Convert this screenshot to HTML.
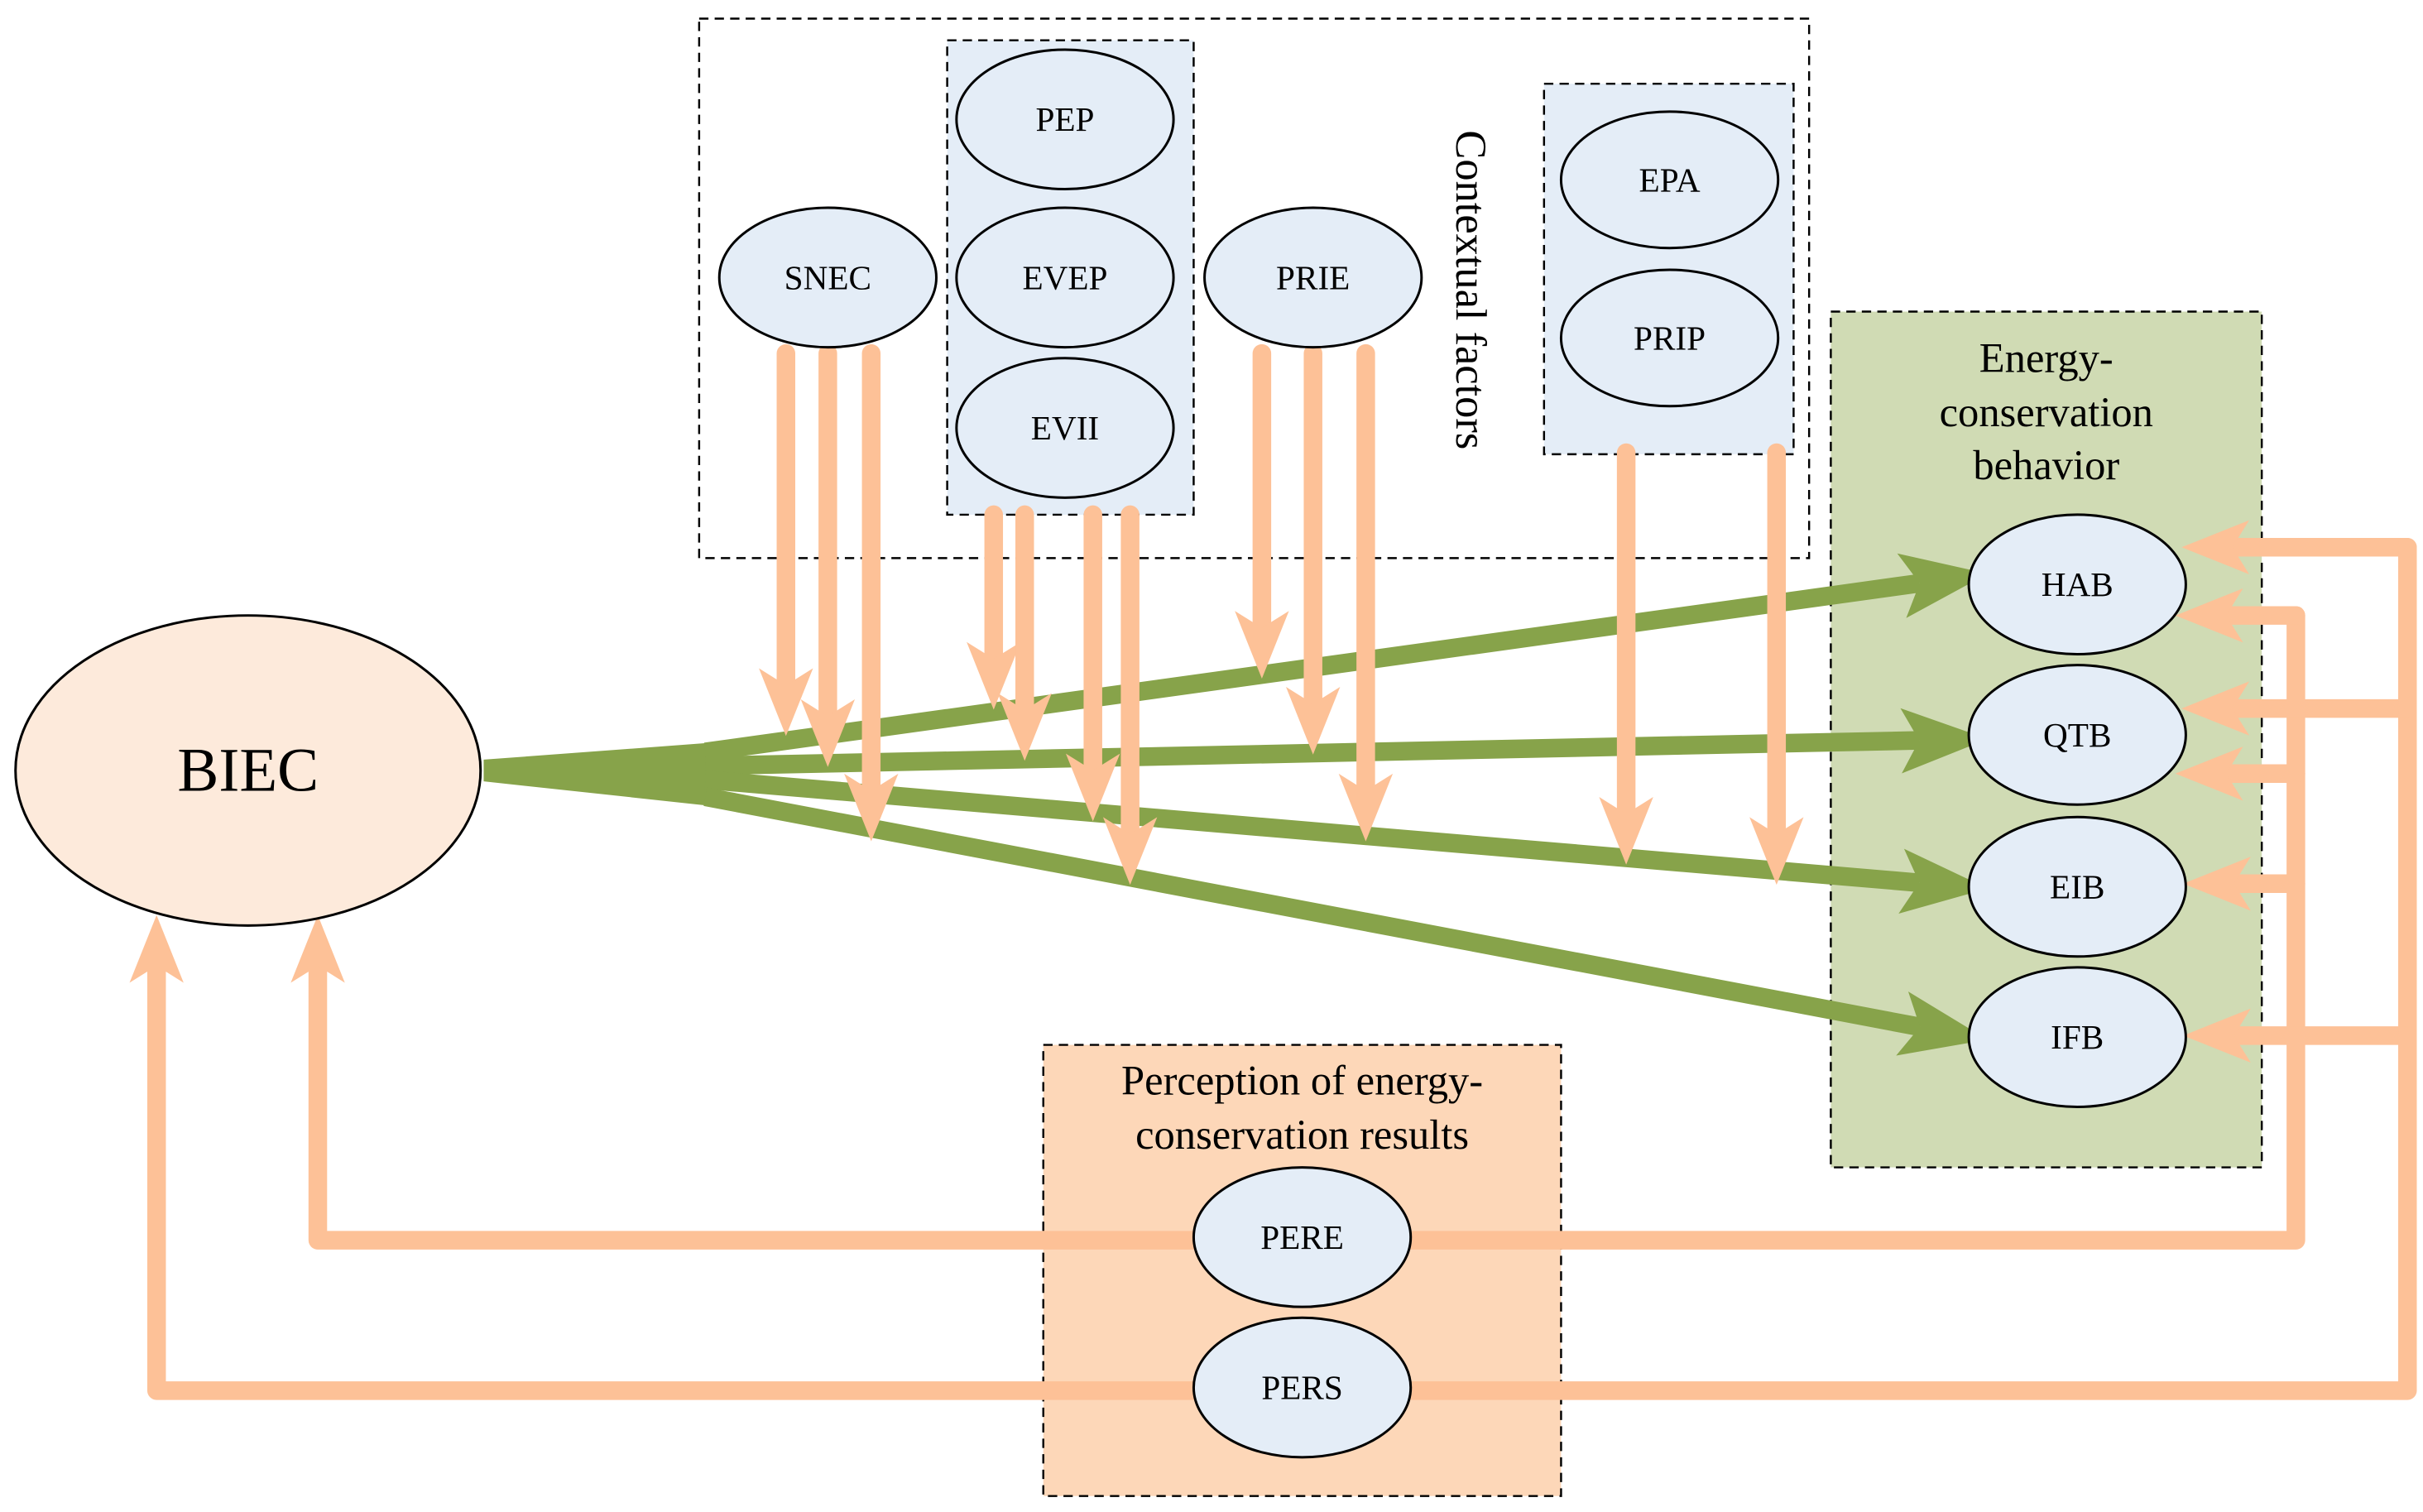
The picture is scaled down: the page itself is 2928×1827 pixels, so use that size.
<!DOCTYPE html>
<html><head><meta charset="utf-8"><style>html,body{margin:0;padding:0;background:#fff}svg{display:block}</style></head>
<body>
<svg width="2928" height="1827" viewBox="0 0 1563 975.3" preserveAspectRatio="none" xmlns="http://www.w3.org/2000/svg" font-family="'Liberation Serif', serif">
<defs>
<marker id="o" markerUnits="userSpaceOnUse" markerWidth="60" markerHeight="60" viewBox="-5 -25 55 50" refX="10" refY="0" orient="auto" overflow="visible"><path d="M40,0 L0,-16 L10,0 L0,16 Z" fill="#fdc197"/></marker>
<marker id="g" markerUnits="userSpaceOnUse" markerWidth="70" markerHeight="70" viewBox="-5 -25 60 50" refX="10" refY="0" orient="auto" overflow="visible"><path d="M48,0 L0,-18 L10,0 L0,18 Z" fill="#87a34a"/></marker>
</defs>
<rect x="0" y="0" width="1563" height="975.3" fill="#fff"/>
<rect x="451" y="12" width="716" height="348" fill="none" stroke="#000" stroke-width="1.3" stroke-dasharray="6,4"/>
<rect x="611" y="26" width="159" height="306" fill="#e4edf7" stroke="#000" stroke-width="1.3" stroke-dasharray="6,4"/>
<rect x="996" y="54" width="161" height="239" fill="#e4edf7" stroke="#000" stroke-width="1.3" stroke-dasharray="6,4"/>
<rect x="1181" y="201" width="278" height="552" fill="#d0dbb4" stroke="#000" stroke-width="1.3" stroke-dasharray="6,4"/>
<rect x="673" y="674" width="334" height="291" fill="#fdd7b8" stroke="#000" stroke-width="1.3" stroke-dasharray="6,4"/>
<text x="946" y="187" font-size="28" text-anchor="middle" transform="rotate(90 946 187)" dominant-baseline="middle">Contextual factors</text>
<g font-size="27" text-anchor="middle">
<text x="1320" y="240">Energy-</text>
<text x="1320" y="275">conservation</text>
<text x="1320" y="309">behavior</text>
<text x="840" y="706">Perception of energy-</text>
<text x="840" y="741">conservation results</text>
</g>
<polygon points="312,490 460,479 460,520 312,504" fill="#87a34a"/>
<g stroke="#87a34a" stroke-width="12" fill="none">
<line x1="455" y1="485" x2="1238.3" y2="376.2" marker-end="url(#g)"/>
<line x1="455" y1="494" x2="1238" y2="477.6" marker-end="url(#g)"/>
<line x1="455" y1="503" x2="1238.1" y2="569.4" marker-end="url(#g)"/>
<line x1="455" y1="514" x2="1238.5" y2="662.4" marker-end="url(#g)"/>
</g>
<g stroke="#fdc197" stroke-width="12" fill="none" stroke-linecap="round">
<line x1="507" y1="228" x2="507" y2="442" marker-end="url(#o)"/>
<line x1="534" y1="228" x2="534" y2="462" marker-end="url(#o)"/>
<line x1="562" y1="228" x2="562" y2="510" marker-end="url(#o)"/>
<line x1="641" y1="332" x2="641" y2="425" marker-end="url(#o)"/>
<line x1="661" y1="332" x2="661" y2="458" marker-end="url(#o)"/>
<line x1="705" y1="332" x2="705" y2="497" marker-end="url(#o)"/>
<line x1="729" y1="332" x2="729" y2="538" marker-end="url(#o)"/>
<line x1="814" y1="228" x2="814" y2="405" marker-end="url(#o)"/>
<line x1="847" y1="228" x2="847" y2="454" marker-end="url(#o)"/>
<line x1="881" y1="228" x2="881" y2="510" marker-end="url(#o)"/>
<line x1="1049" y1="292" x2="1049" y2="525" marker-end="url(#o)"/>
<line x1="1146" y1="292" x2="1146" y2="538" marker-end="url(#o)"/>
<polyline points="1553,353 1553,897 101,897 101,623" stroke-linejoin="round" marker-end="url(#o)"/>
<polyline points="1481,397 1481,800 205,800 205,623" stroke-linejoin="round" marker-end="url(#o)"/>
<line x1="1553" y1="353" x2="1440" y2="353" marker-end="url(#o)"/>
<line x1="1481" y1="397" x2="1436" y2="397" marker-end="url(#o)"/>
<line x1="1553" y1="457" x2="1440" y2="457" marker-end="url(#o)"/>
<line x1="1481" y1="499" x2="1436" y2="499" marker-end="url(#o)"/>
<line x1="1481" y1="570" x2="1441" y2="570" marker-end="url(#o)"/>
<line x1="1553" y1="668" x2="1441" y2="668" marker-end="url(#o)"/>
</g>
<g fill="#e4edf7" stroke="#000" stroke-width="1.6">
<ellipse cx="687" cy="77" rx="70" ry="45"/>
<ellipse cx="687" cy="179" rx="70" ry="45"/>
<ellipse cx="687" cy="276" rx="70" ry="45"/>
<ellipse cx="534" cy="179" rx="70" ry="45"/>
<ellipse cx="847" cy="179" rx="70" ry="45"/>
<ellipse cx="1077" cy="116" rx="70" ry="44"/>
<ellipse cx="1077" cy="218" rx="70" ry="44"/>
<ellipse cx="1340" cy="377" rx="70" ry="45"/>
<ellipse cx="1340" cy="474" rx="70" ry="45"/>
<ellipse cx="1340" cy="572" rx="70" ry="45"/>
<ellipse cx="1340" cy="669" rx="70" ry="45"/>
<ellipse cx="840" cy="798" rx="70" ry="45"/>
<ellipse cx="840" cy="895" rx="70" ry="45"/>
</g>
<ellipse cx="160" cy="497" rx="150" ry="100" fill="#fdeadb" stroke="#000" stroke-width="1.6"/>
<g font-size="22" text-anchor="middle" dominant-baseline="central">
<text x="687" y="77">PEP</text>
<text x="687" y="179">EVEP</text>
<text x="687" y="276">EVII</text>
<text x="534" y="179">SNEC</text>
<text x="847" y="179">PRIE</text>
<text x="1077" y="116">EPA</text>
<text x="1077" y="218">PRIP</text>
<text x="1340" y="377">HAB</text>
<text x="1340" y="474">QTB</text>
<text x="1340" y="572">EIB</text>
<text x="1340" y="669">IFB</text>
<text x="840" y="798">PERE</text>
<text x="840" y="895">PERS</text>
<text x="160" y="497" font-size="40">BIEC</text>
</g>
</svg>
</body></html>
